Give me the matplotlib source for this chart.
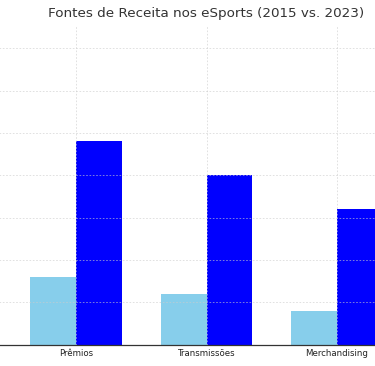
import numpy as np
import matplotlib
matplotlib.use("Agg")
import matplotlib.pyplot as plt

# Data (revenue by source)
categories = ["Prêmios", "Transmissões", "Merchandising"]
values_2015 = [80, 60, 40]
values_2023 = [240, 200, 160]

W, H, DPI = 375, 366, 100
fig = plt.figure(figsize=(W / DPI, H / DPI), dpi=DPI)

# axes are wider than the figure: the left/right edges sit outside the picture
x_lo, x_hi = -0.8, 2.8
px_per_unit = 130.5
left_px = 76 - (0 - x_lo) * px_per_unit
width_px = (x_hi - x_lo) * px_per_unit
top_px, bottom_px = 25, 344.5
ax = fig.add_axes([left_px / W, (H - bottom_px) / H, width_px / W, (bottom_px - top_px) / H])

x = np.arange(len(categories))
width = 0.35
ax.bar(x - width / 2, values_2015, width, color="skyblue", label="2015")
ax.bar(x + width / 2, values_2023, width, color="blue", label="2023")

ax.set_xlim(x_lo, x_hi)
ax.set_ylim(0, 377.7)
ax.set_xticks(x)
ax.set_xticklabels(categories, fontsize=6.2, color="#222222")
ax.tick_params(axis="both", length=0, pad=3)
ax.tick_params(axis="y", labelsize=6.2)

ax.grid(True, linestyle=(0, (2, 2)), linewidth=0.6, color="#cccccc", alpha=0.7)
ax.set_axisbelow(False)

for side in ["top", "right", "left"]:
    ax.spines[side].set_visible(False)
ax.spines["bottom"].set_color("#333333")
ax.spines["bottom"].set_linewidth(0.9)

ax.set_title("Fontes de Receita nos eSports (2015 vs. 2023)", fontsize=9.7,
             color="#333333", pad=6)

fig.savefig("out.png", dpi=DPI)
